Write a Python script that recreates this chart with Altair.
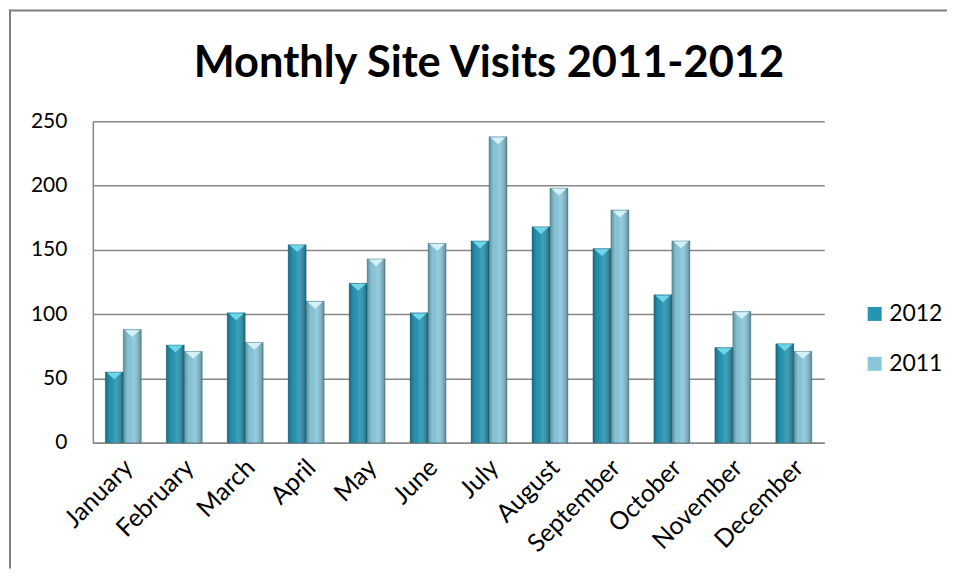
import altair as alt
import pandas as pd

TITLE = "Monthly Site Visits 2011-2012"
months = ["January", "February", "March", "April", "May", "June", "July",
          "August", "September", "October", "November", "December"]
years = ["2012", "2011"]
v2012 = [55, 76, 101, 154, 124, 101, 157, 168, 151, 115, 74, 77]
v2011 = [88, 71, 78, 110, 143, 155, 238, 198, 181, 157, 102, 71]
y_ticks = [0, 50, 100, 150, 200, 250]

rows = []
for m, a, b in zip(months, v2012, v2011):
    rows.append({"month": m, "year": "2012", "visits": a})
    rows.append({"month": m, "year": "2011", "visits": b})
df = pd.DataFrame(rows)

FONT = "Lato"
GRID = "#878787"

x_enc = alt.X("month:N", sort=months, title=None,
              scale=alt.Scale(paddingInner=0.41, paddingOuter=0.205),
              axis=alt.Axis(labelAngle=-45, labelFontSize=25, labelFont=FONT,
                            labelColor="black", ticks=False, domainColor=GRID,
                            domainWidth=1.5, labelPadding=12, labelOffset=-3,
                            grid=False))
xo_enc = alt.XOffset("year:N", sort=years,
                     scale=alt.Scale(paddingInner=0, paddingOuter=0))
y_enc = alt.Y("visits:Q", title=None,
              scale=alt.Scale(domain=[0, 250], nice=False),
              axis=alt.Axis(values=y_ticks, labelFontSize=21, labelFont=FONT,
                            labelColor="black", ticks=False, domainColor=GRID,
                            domainWidth=1.5, gridColor=GRID, gridWidth=1.5,
                            labelPadding=26))

base = alt.Chart(df)

bars = base.mark_bar(stroke="#1d5f70", strokeOpacity=0.35, strokeWidth=1).encode(
    x=x_enc, xOffset=xo_enc, y=y_enc,
    color=alt.Color("year:N", sort=years,
                    scale=alt.Scale(domain=years, range=["#2694b1", "#88c7da"]),
                    legend=alt.Legend(orient="none", legendX=772, legendY=181.5,
                                      title=None, symbolType="square",
                                      symbolSize=196, symbolStrokeWidth=0,
                                      labelFontSize=23, labelFont=FONT,
                                      labelColor="black", rowPadding=26,
                                      labelOffset=3)),
)

shade = base.mark_bar(
    color=alt.Gradient(
        gradient="linear", x1=0, x2=1, y1=0, y2=0,
        stops=[alt.GradientStop(offset=0, color="rgba(0,0,0,0.28)"),
               alt.GradientStop(offset=0.25, color="rgba(0,0,0,0.02)"),
               alt.GradientStop(offset=0.55, color="rgba(255,255,255,0.10)"),
               alt.GradientStop(offset=1, color="rgba(0,0,0,0.32)")])
).encode(x=x_enc, xOffset=xo_enc, y=y_enc)

bevel = base.mark_point(shape="M-1,-0.45L1,-0.45L0,0.45Z", size=225, filled=True,
                        opacity=1, yOffset=4).encode(
    x=x_enc, xOffset=xo_enc, y=y_enc,
    fill=alt.condition(alt.datum.year == "2012", alt.value("#6fd6ea"),
                       alt.value("#d3f1f7")),
)

tdf = pd.DataFrame({"title": [TITLE]})
title = alt.Chart(tdf).mark_text(font=FONT, fontSize=43.5, fontWeight="bold",
                                 color="black", align="center",
                                 baseline="alphabetic").encode(
    text="title:N", x=alt.value(397), y=alt.value(-44))

left_border = alt.Chart(tdf).mark_rule(color="#808080", strokeWidth=2).encode(
    x=alt.value(-83), y=alt.value(-112), y2=alt.value(448))
top_border = alt.Chart(tdf).mark_rule(color="#808080", strokeWidth=2).encode(
    x=alt.value(-84), x2=alt.value(856), y=alt.value(-111))

chart = alt.layer(bars, shade, bevel, title, left_border, top_border).properties(
    width=733, height=322, padding=0, background="white"
).configure_view(stroke=None)

chart.save("out.html", embed_options={"renderer": "svg", "actions": False})
